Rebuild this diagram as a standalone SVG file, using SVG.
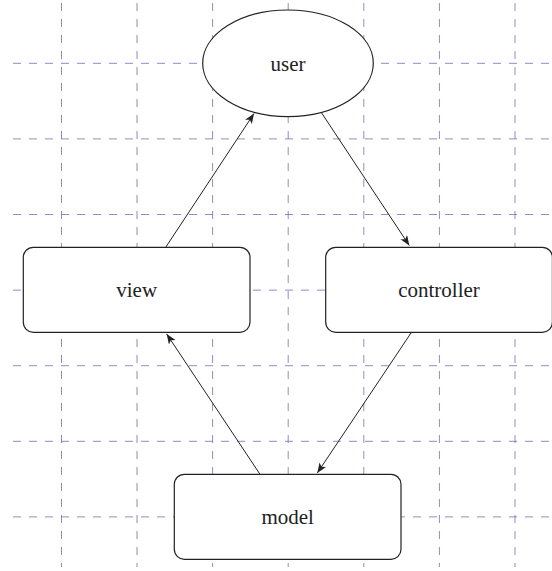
<svg xmlns="http://www.w3.org/2000/svg" width="552" height="571" viewBox="0 0 552 571">
<style>
.grid line{stroke:#7a7ac0;stroke-width:1;stroke-dasharray:8 8;opacity:0.85}
.node{fill:#fff;stroke:#222;stroke-width:1.2}
.lbl{font-family:'Liberation Serif','Times New Roman','DejaVu Serif',serif;font-size:21px;fill:#222;text-anchor:middle}
.edge{stroke:#222;stroke-width:1;fill:none;marker-end:url(#ah)}
</style>
<defs>
<marker id="ah" markerUnits="userSpaceOnUse" markerWidth="12" markerHeight="10" refX="10" refY="4" orient="auto">
<path d="M0,0 L10,4 L0,8 L2.5,4 Z" fill="#222"/>
</marker>
</defs>
<rect width="552" height="571" fill="#fff"/>
<g class="grid">
<line x1="61.5" y1="3" x2="61.5" y2="567"/>
<line x1="137" y1="3" x2="137" y2="567"/>
<line x1="212.6" y1="3" x2="212.6" y2="567"/>
<line x1="288.2" y1="3" x2="288.2" y2="567"/>
<line x1="363.8" y1="3" x2="363.8" y2="567"/>
<line x1="439.4" y1="3" x2="439.4" y2="567"/>
<line x1="515" y1="3" x2="515" y2="567"/>
<line x1="13" y1="63.3" x2="560" y2="63.3"/>
<line x1="13" y1="138.9" x2="560" y2="138.9"/>
<line x1="13" y1="214.5" x2="560" y2="214.5"/>
<line x1="13" y1="290.1" x2="560" y2="290.1"/>
<line x1="13" y1="365.7" x2="560" y2="365.7"/>
<line x1="13" y1="441.3" x2="560" y2="441.3"/>
<line x1="13" y1="516.9" x2="560" y2="516.9"/>
</g>
<g id="connectors">
<line class="edge" x1="165.7" y1="247.3" x2="254" y2="113.5"/>
<line class="edge" x1="321" y1="112" x2="409.3" y2="245.5"/>
<line class="edge" x1="411" y1="333" x2="317.3" y2="473"/>
<line class="edge" x1="260" y1="474.3" x2="166.7" y2="334"/>
</g>
<g id="user">
<ellipse class="node" cx="288" cy="63.3" rx="85.3" ry="53.3"/>
<text class="lbl" font-family="Liberation Serif, serif" x="288" y="70.8">user</text>
</g>
<g id="view">
<rect class="node" x="23.3" y="247.3" width="226.7" height="85" rx="10"/>
<text class="lbl" font-family="Liberation Serif, serif" x="136.7" y="297.3">view</text>
</g>
<g id="controller">
<rect class="node" x="325.7" y="247.3" width="226.7" height="85" rx="10"/>
<text class="lbl" font-family="Liberation Serif, serif" x="439" y="297.3">controller</text>
</g>
<g id="model">
<rect class="node" x="174.3" y="474.3" width="226.7" height="85" rx="10"/>
<text class="lbl" font-family="Liberation Serif, serif" x="287.7" y="524.3">model</text>
</g>
</svg>
